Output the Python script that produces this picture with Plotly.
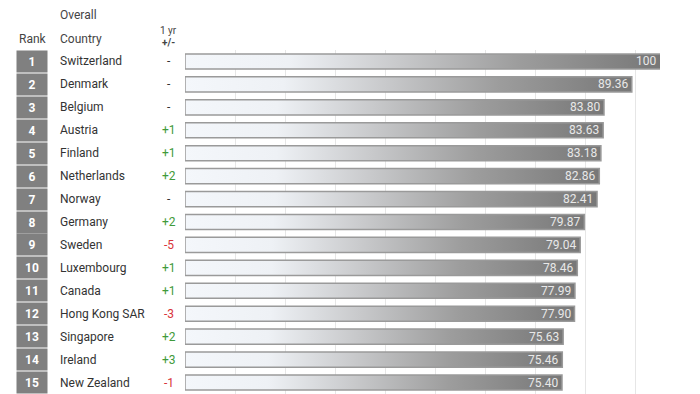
import plotly.graph_objects as go

ranks = list(range(1, 16))
countries = ["Switzerland", "Denmark", "Belgium", "Austria", "Finland", "Netherlands",
             "Norway", "Germany", "Sweden", "Luxembourg", "Canada", "Hong Kong SAR",
             "Singapore", "Ireland", "New Zealand"]
changes = ["-", "-", "-", "+1", "+1", "+2", "-", "+2", "-5", "+1", "+1", "-3", "+2", "+3", "-1"]
scores = [100, 89.36, 83.80, 83.63, 83.18, 82.86, 82.41, 79.87, 79.04, 78.46, 77.99, 77.90,
          75.63, 75.46, 75.40]

W, H = 700, 394
T = 50
XMAX = 95
HALF = 0.33

def px_x(x):
    return x / W

def px_y(y):
    return (H - y) / (H - T)

fig = go.Figure()

for i, v in enumerate(scores):
    fig.add_trace(go.Scatter(
        x=[0, v, v, 0, 0], y=[i - HALF, i - HALF, i + HALF, i + HALF, i - HALF],
        mode="lines", fill="toself",
        line=dict(color="#9a9a9a", width=1.5),
        fillgradient=dict(type="horizontal", start=0, stop=min(v, XMAX),
                          colorscale=[[0, "#f4f7fb"], [0.22, "#eef1f5"], [0.45, "#c8c9cb"],
                                      [0.7, "#9d9d9d"], [1, "#777777"]]),
        hoverinfo="skip", showlegend=False,
    ))

ann = []
for i, (r, c, ch, v) in enumerate(zip(ranks, countries, changes, scores)):
    ann.append(dict(xref="paper", yref="y", x=px_x(32), y=i, text=f"<b>{r}</b>",
                    xanchor="center", yanchor="middle",
                    showarrow=False, bgcolor="#808080", width=30, height=21, borderpad=0,
                    font=dict(family="Roboto", size=12, color="white")))
    ann.append(dict(xref="paper", yref="y", x=px_x(58), y=i, text=c, xanchor="left",
                    yanchor="middle",
                    showarrow=False, font=dict(family="Roboto", size=12, color="#333333")))
    col = "#3f9a3a" if ch.startswith("+") else ("#d8343a" if len(ch) > 1 else "#333333")
    ann.append(dict(xref="paper", yref="y", x=px_x(169), y=i, text=ch, xanchor="center",
                    yanchor="middle",
                    showarrow=False, font=dict(family="Roboto", size=12, color=col)))
    label = "100" if v == 100 else f"{v:.2f}"
    ann.append(dict(xref="x", yref="y", x=min(v, XMAX), y=i, text=label, xanchor="right",
                    yanchor="middle", xshift=-2, showarrow=False,
                    font=dict(family="Roboto", size=12, color="#e8e8e8")))

hdr = dict(family="Roboto", size=12, color="#444444")
ann += [
    dict(xref="paper", yref="paper", x=px_x(58), y=px_y(15), text="Overall", xanchor="left",
         yanchor="middle", showarrow=False, font=hdr),
    dict(xref="paper", yref="paper", x=px_x(58), y=px_y(39), text="Country", xanchor="left",
         yanchor="middle", showarrow=False, font=hdr),
    dict(xref="paper", yref="paper", x=px_x(17), y=px_y(39), text="Rank", xanchor="left",
         yanchor="middle", showarrow=False, font=hdr),
    dict(xref="paper", yref="paper", x=px_x(168), y=px_y(31), text="1 yr", xanchor="center",
         yanchor="middle", showarrow=False, font=dict(family="Roboto", size=10, color="#444444")),
    dict(xref="paper", yref="paper", x=px_x(168), y=px_y(43), text="<b>+/-</b>", xanchor="center",
         yanchor="middle", showarrow=False, font=dict(family="Roboto", size=10, color="#444444")),
]

fig.update_layout(
    width=W, height=H,
    margin=dict(l=0, r=0, t=T, b=0),
    paper_bgcolor="white", plot_bgcolor="white",
    xaxis=dict(domain=[185 / W, 660 / W], range=[0, XMAX], dtick=10, showgrid=True,
               gridcolor="#e6e6e6", gridwidth=1, zeroline=False, showticklabels=False,
               fixedrange=True),
    yaxis=dict(range=[14.5, -0.5], showgrid=False, zeroline=False, showticklabels=False,
               fixedrange=True),
    annotations=ann,
)

fig.write_html("out.html", config={"displayModeBar": False},
               post_script="document.body.style.margin='0';document.body.style.overflow='hidden';")
